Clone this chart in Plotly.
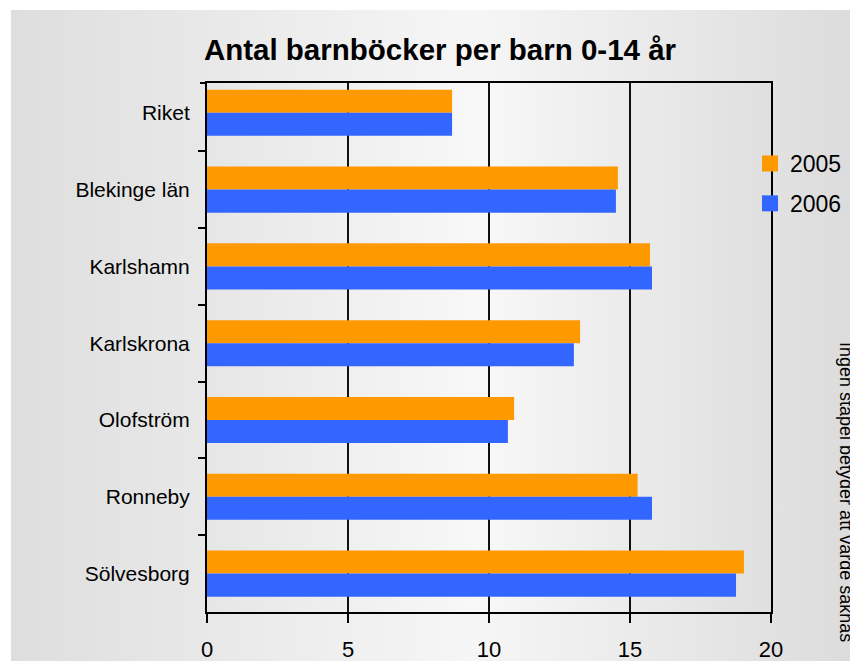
import base64
import plotly.graph_objects as go

categories = ["Riket", "Blekinge län", "Karlshamn", "Karlskrona", "Olofström", "Ronneby", "Sölvesborg"]
values_2005 = [8.69, 14.57, 15.71, 13.23, 10.89, 15.27, 19.04]
values_2006 = [8.69, 14.50, 15.78, 13.01, 10.67, 15.78, 18.76]
series_names = ["2005", "2006"]
series_colors = ["#FF9900", "#3366FF"]
x_ticks = [0, 5, 10, 15, 20]

FONT = "Liberation Sans, Arial, sans-serif"
W, H = 850, 661
L, T = 207, 83
pw, ph = 564, 529
R, B = W - L - pw, H - T - ph


def grad_svg(w, h, stops):
    st = "".join(f'<stop offset="{o}" stop-color="{c}"/>' for o, c in stops)
    svg = (f'<svg xmlns="http://www.w3.org/2000/svg" width="{w}" height="{h}" '
           f'viewBox="0 0 {w} {h}" preserveAspectRatio="none">'
           f'<defs><linearGradient id="g" x1="0" y1="0" x2="1" y2="0">{st}</linearGradient></defs>'
           f'<rect x="0" y="0" width="{w}" height="{h}" fill="url(#g)"/></svg>')
    return "data:image/svg+xml;base64," + base64.b64encode(svg.encode()).decode()


def px_x(p):
    return (p - L) / pw


def px_y(p):
    return (T + ph - p) / ph


fig = go.Figure()
for name, vals, col, grp in zip(series_names, [values_2005, values_2006], series_colors, ["a", "b"]):
    fig.add_trace(go.Bar(y=categories, x=vals, name=name, orientation="h",
                         marker=dict(color=col, line=dict(width=0)),
                         legendgroup=grp, showlegend=False))
# legend entries with larger square swatches
for name, col, grp in zip(series_names, series_colors, ["a", "b"]):
    fig.add_trace(go.Scatter(x=[None], y=[None], mode="markers", name=name,
                             marker=dict(symbol="square", size=16, color=col),
                             legendgroup=grp, showlegend=True, hoverinfo="skip"))

bg_left, bg_top = 11, 10
images = [
    dict(source=grad_svg(W - bg_left, H - bg_top,
                         [(0, "#dedede"), (0.55, "#f6f6f6"), (1, "#dcdcdc")]),
         xref="paper", yref="paper",
         x=px_x(bg_left), y=px_y(bg_top),
         sizex=(W - bg_left) / pw, sizey=(H - bg_top) / ph,
         xanchor="left", yanchor="top", sizing="stretch", layer="below"),
    dict(source=grad_svg(pw, ph, [(0, "#e6e6e6"), (0.48, "#f8f8f8"), (1, "#dfdfdf")]),
         xref="paper", yref="paper", x=0, y=1, sizex=1, sizey=1,
         xanchor="left", yanchor="top", sizing="stretch", layer="below"),
]

fig.update_layout(
    width=W, height=H,
    margin=dict(l=L, r=R, t=T, b=B, pad=0, autoexpand=False),
    paper_bgcolor="white", plot_bgcolor="rgba(0,0,0,0)",
    images=images,
    barmode="group", bargap=0.4, bargroupgap=0,
    font=dict(family=FONT, color="black"),
    title=dict(text="<b>Antal barnböcker per barn 0-14 år</b>", x=440 / W, xanchor="center",
               y=1 - 50 / H, yanchor="middle", font=dict(size=29.5, family=FONT, color="black")),
    showlegend=True,
    legend=dict(x=px_x(750), xanchor="left", y=px_y(142), yanchor="top",
                traceorder="grouped", tracegroupgap=7, bgcolor="rgba(0,0,0,0)",
                font=dict(size=23, family=FONT)),
    xaxis=dict(range=[0, 20], tickvals=x_ticks, ticktext=[str(v) for v in x_ticks],
               showgrid=True, gridcolor="#111111", gridwidth=2,
               showline=True, linecolor="black", linewidth=2, mirror=True,
               ticks="outside", ticklen=9, tickwidth=2, tickcolor="black",
               tickfont=dict(size=22, family=FONT), ticklabelstandoff=8,
               zeroline=False, automargin=False),
    yaxis=dict(categoryorder="array", categoryarray=categories,
               range=[6.5, -0.388], showgrid=False,
               showline=True, linecolor="black", linewidth=2, mirror=True,
               ticks="outside", tickson="boundaries", ticklen=7, tickwidth=2, tickcolor="black",
               tickfont=dict(size=21, family=FONT), ticklabelstandoff=11, automargin=False),
    shapes=[dict(type="line", xref="paper", yref="paper", x0=-7 / pw, x1=0, y0=1, y1=1,
                 line=dict(color="black", width=2))],
    annotations=[dict(text="Ingen stapel betyder att värde saknas", textangle=90,
                      xref="paper", yref="paper", x=px_x(846), y=px_y(340),
                      xanchor="center", yanchor="top", showarrow=False,
                      font=dict(size=18, family=FONT, color="black"))],
)

fig.write_html(
    "out.html",
    config={"displayModeBar": False},
    post_script="document.body.style.margin='0';document.documentElement.style.overflow='hidden';",
)
